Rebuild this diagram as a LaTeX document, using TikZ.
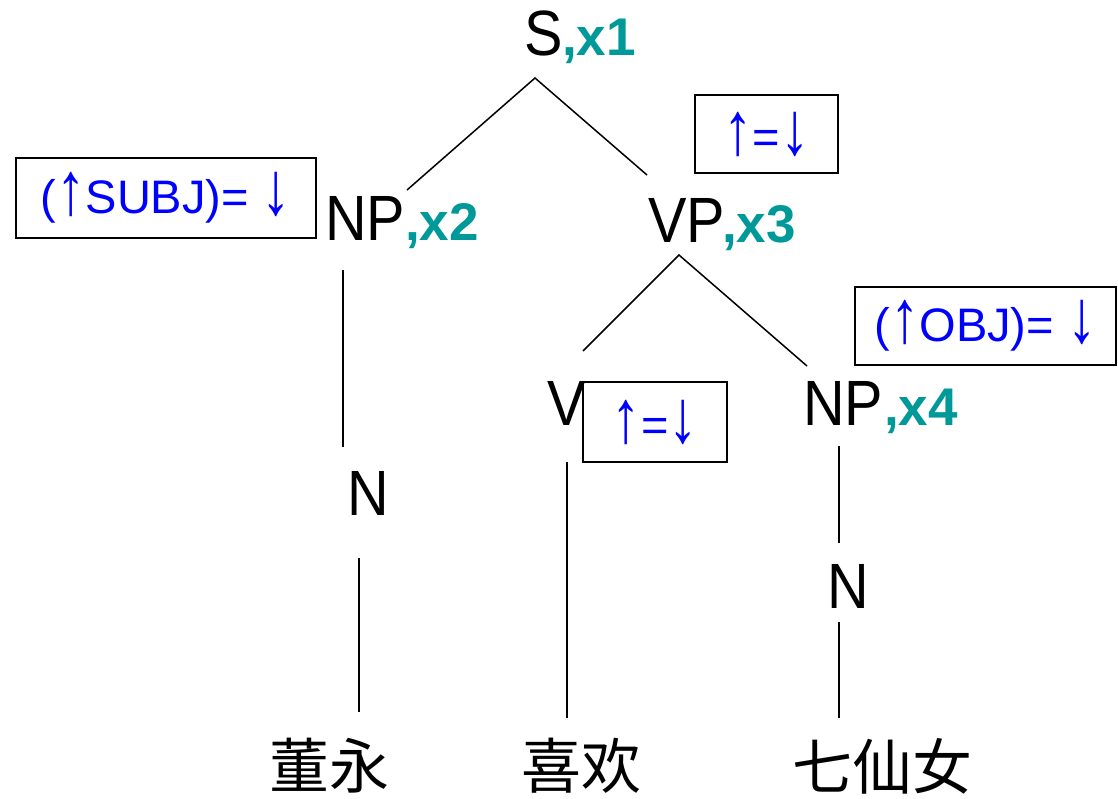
\documentclass[tikz,border=0pt]{standalone}
\usepackage{fontspec}
\setmainfont{Liberation Sans}
\newfontfamily\labf[FakeStretch=0.9]{Liberation Sans}
\newfontfamily\idxf{Liberation Sans}
\newfontfamily\cjk{Noto Sans CJK SC}
\definecolor{idxteal}{RGB}{0,153,153}
\definecolor{fblue}{RGB}{0,0,255}
\newcommand{\myup}{\raisebox{-1pt}{\scalebox{1.25}[1.6]{↑}}}
\newcommand{\mydown}{\raisebox{-1pt}{\scalebox{1.25}[1.6]{↓}}}
\begin{document}
\begin{tikzpicture}[x=1pt,y=-1pt,
  lab/.style={inner sep=0pt, anchor=base west, font=\labf\fontsize{64}{64}\selectfont},
  idx/.style={inner sep=0pt, anchor=base west, text=idxteal, font=\idxf\bfseries\fontsize{53}{53}\selectfont},
  fbox/.style={draw=black, line width=1.6pt, inner sep=0pt, text=fblue, font=\fontsize{47}{47}\selectfont},
  word/.style={inner sep=0pt, anchor=center, font=\cjk\fontsize{60}{60}\selectfont},
  edge/.style={line width=1.5pt, line cap=butt}]
\useasboundingbox (0,0) rectangle (1118,798);
% labels
\node[lab] (S) at (524,55) {S};
\node[idx] (x1) at (562,55) {,x1};
\node[lab] (NPa) at (325,240) {NP};
\node[idx] (x2) at (405,240) {,x2};
\node[lab] (VP) at (648,242) {VP};
\node[idx] (x3) at (722,242) {,x3};
\node[lab] (V) at (547,425) {V};
\node[lab] (NPb) at (803,425) {NP};
\node[idx] (x4) at (884,425) {,x4};
\node[lab] (Na) at (347,515) {N};
\node[lab] (Nb) at (827,608) {N};
% words
\node[word] (w1) at (329,766) {董永};
\node[word] (w2) at (581,766) {喜欢};
\node[word] (w3) at (882,766) {七仙女};
% boxes
\node[fbox, minimum width=300pt, minimum height=80pt] (b1) at (166,198) {(\myup SUBJ)= \mydown};
\node[fbox, minimum width=143pt, minimum height=78pt] (b2) at (766.5,134) {\myup=\mydown};
\node[fbox, minimum width=144pt, minimum height=80pt] (b3) at (655,422) {\myup=\mydown};
\node[fbox, minimum width=261pt, minimum height=78pt] (b4) at (985.5,326) {(\myup OBJ)= \mydown};
% connector points
\coordinate (sT) at (535,78);
\coordinate (sL) at (407,190);
\coordinate (sR) at (647,175);
\coordinate (vT) at (679,255);
\coordinate (vL) at (583,351);
\coordinate (vR) at (807,366);
\coordinate (n1a) at (343,270);
\coordinate (n1b) at (343,447);
\coordinate (n2a) at (359,558);
\coordinate (n2b) at (359,712);
\coordinate (v1a) at (567,462);
\coordinate (v1b) at (567,718);
\coordinate (n3a) at (839,446);
\coordinate (n3b) at (839,543);
\coordinate (n4a) at (839,622);
\coordinate (n4b) at (839,718);
\draw[edge] (sL) -- (sT) -- (sR);
\draw[edge] (vL) -- (vT) -- (vR);
\draw[edge] (n1a) -- (n1b);
\draw[edge] (n2a) -- (n2b);
\draw[edge] (v1a) -- (v1b);
\draw[edge] (n3a) -- (n3b);
\draw[edge] (n4a) -- (n4b);
\end{tikzpicture}
\end{document}
